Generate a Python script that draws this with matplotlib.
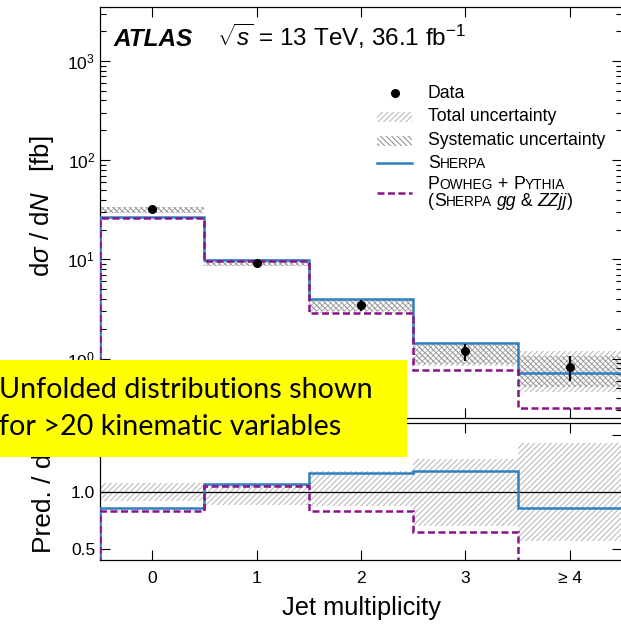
import numpy as np
import matplotlib
matplotlib.use("Agg")
import matplotlib.pyplot as plt
from matplotlib.patches import Rectangle
from matplotlib.lines import Line2D
from matplotlib.offsetbox import (AnchoredOffsetbox, DrawingArea, HPacker,
                                  VPacker, TextArea)

plt.rcParams["font.family"] = ["Liberation Sans", "DejaVu Sans"]
plt.rcParams["mathtext.fontset"] = "custom"
plt.rcParams["mathtext.rm"] = "Liberation Sans"
plt.rcParams["mathtext.it"] = "Liberation Sans:italic"
plt.rcParams["mathtext.bf"] = "Liberation Sans:bold"
plt.rcParams["hatch.linewidth"] = 0.7

# ---- data -------------------------------------------------------------
categories = ["0", "1", "2", "3", "≥ 4"]

data = [31.9, 9.3, 3.5, 1.19, 0.82]
data_err_lo = [0.5, 0.25, 0.45, 0.24, 0.23]
data_err_hi = [0.5, 0.25, 0.40, 0.20, 0.23]

total_lo = [29.5, 8.5, 2.90, 0.836, 0.46]
total_hi = [33.9, 10.1, 4.00, 1.47, 1.19]
syst_lo = [29.6, 8.6, 3.00, 0.89, 0.52]
syst_hi = [33.7, 10.0, 3.95, 1.36, 1.07]

sherpa = [26.8, 9.82, 4.03, 1.45, 0.716]
powheg = [26.0, 9.66, 2.88, 0.762, 0.318]

# ratio panel (prediction / data)
ratio_band_lo = [0.918, 0.88, 0.875, 0.695, 0.564]
ratio_band_hi = [1.078, 1.078, 1.18, 1.29, 1.43]
ratio_sherpa = [0.855, 1.067, 1.16, 1.185, 0.855]
ratio_powheg = [0.83, 1.05, 0.83, 0.648, 0.387]

# ---- style ------------------------------------------------------------
C_SHERPA = "#2f80c0"
C_POWHEG = "#8b128b"
C_TOTAL = "#b4b4b4"
C_SYST = "#8a8a8a"
HATCH_TOT = "//////"
HATCH_SYS = "\\\\\\\\\\\\"
DASH = (0, (2.8, 1.4))
LW = 1.8

x = np.arange(len(categories))
edges = np.arange(len(categories) + 1) - 0.5

fig = plt.figure(figsize=(6.21, 6.25), dpi=100)
W, H = 621.0, 625.0
ax = fig.add_axes([100 / W, 1 - 418.3 / H, 522 / W, 411.3 / H])
rax = fig.add_axes([100 / W, 1 - 560 / H, 522 / W, 136.7 / H])

# ---- main panel -------------------------------------------------------
ax.bar(x, np.subtract(total_hi, total_lo), bottom=total_lo, width=1.0,
       color="none", edgecolor=C_TOTAL, hatch=HATCH_TOT, linewidth=0, zorder=1)
ax.bar(x, np.subtract(syst_hi, syst_lo), bottom=syst_lo, width=1.0,
       color="none", edgecolor=C_SYST, hatch=HATCH_SYS, linewidth=0, zorder=1)
ax.stairs(sherpa, edges, color=C_SHERPA, lw=LW, zorder=3)
ax.stairs(powheg, edges, color=C_POWHEG, lw=LW, linestyle=DASH, zorder=4)
ax.errorbar(x, data, yerr=[data_err_lo, data_err_hi], fmt="o", color="black",
            ms=5.5, elinewidth=1.6, capsize=0, zorder=5)

ax.set_yscale("log")
ax.set_ylim(0.25, 3500)
ax.set_xlim(-0.5, 4.5)
ax.set_xticks(x)
ax.tick_params(axis="x", labelbottom=False)
ax.set_ylabel(r"d$\sigma$ / d$N$   [fb]", fontsize=18.5)
ax.yaxis.set_label_coords(-0.085, 0.515)

ax.text(0.025, 0.906, "ATLAS", transform=ax.transAxes, fontsize=17.5,
        fontweight="bold", fontstyle="italic", va="baseline")
ax.text(0.224, 0.906, r"$\sqrt{s}$ = 13 TeV, 36.1 fb$^{-1}$",
        transform=ax.transAxes, fontsize=17.5, va="baseline")

# ---- ratio panel ------------------------------------------------------
rax.bar(x, np.subtract(ratio_band_hi, ratio_band_lo), bottom=ratio_band_lo,
        width=1.0, color="none", edgecolor=C_TOTAL, hatch=HATCH_TOT,
        linewidth=0, zorder=1)
rax.axhline(1.0, color="black", lw=0.9, zorder=2)
rax.stairs(ratio_sherpa, edges, color=C_SHERPA, lw=LW, zorder=3)
rax.stairs(ratio_powheg, edges, color=C_POWHEG, lw=LW, linestyle=DASH, zorder=4)
rax.set_xlim(-0.5, 4.5)
rax.set_ylim(0.4, 1.6)
rax.set_yticks([0.5, 1.0, 1.5])
rax.set_yticklabels(["0.5", "1.0", ""])
rax.set_xticks(x)
rax.set_xticklabels(categories)
rax.set_ylabel("Pred. / data", fontsize=19)
rax.yaxis.set_label_coords(-0.085, 0.55)
rax.set_xlabel("Jet multiplicity", fontsize=18.3, labelpad=7)

for a in (ax, rax):
    a.tick_params(which="both", direction="in", top=True, right=True,
                  labelsize=12.5)
    a.tick_params(which="major", length=7, width=0.8)
    a.tick_params(which="minor", length=4, width=0.8)
    for s in a.spines.values():
        s.set_linewidth(0.9)
rax.tick_params(axis="x", pad=8)
rax.minorticks_off()

# ---- legend -----------------------------------------------------------
FS = 12.7
HW = 25.2


def handle(kind):
    hh = 14.4 if kind in ("data", "total", "syst") else 10.0
    da = DrawingArea(HW, hh, 0, 0)
    if kind == "data":
        da.add_artist(Line2D([HW / 2], [hh / 2], marker="o", color="black",
                             ms=5.5, linestyle="none"))
    elif kind == "total":
        da.add_artist(Rectangle((0, hh / 2 - 3.6), HW, 7.2, facecolor="none",
                                edgecolor=C_TOTAL, hatch=HATCH_TOT, lw=0))
    elif kind == "syst":
        da.add_artist(Rectangle((0, hh / 2 - 3.6), HW, 7.2, facecolor="none",
                                edgecolor=C_SYST, hatch=HATCH_SYS, lw=0))
    elif kind == "sherpa":
        da.add_artist(Line2D([0, HW], [hh / 2, hh / 2], color=C_SHERPA, lw=LW))
    else:
        da.add_artist(Line2D([0, HW], [hh / 2, hh / 2], color=C_POWHEG,
                             lw=LW, linestyle=DASH))
    return da


def txt(s, size=FS, **kw):
    return TextArea(s, textprops=dict(fontsize=size, **kw))


def caps(word):
    # small-capitals rendering: capital initial, reduced capitals after it
    return [txt(word[0]), txt(word[1:].upper(), size=FS * 0.78)]


def line(parts):
    return HPacker(children=parts, align="baseline", pad=0, sep=0)


labels = {
    "data": txt("Data"),
    "total": txt("Total uncertainty"),
    "syst": txt("Systematic uncertainty"),
    "sherpa": line(caps("Sherpa")),
    "powheg": VPacker(children=[
        line(caps("Powheg") + [txt(" + ")] + caps("Pythia")),
        line([txt("(")] + caps("Sherpa") + [txt(" "), txt("gg", style="italic"),
             txt(" & "), txt("ZZjj", style="italic"), txt(")")]),
    ], align="left", pad=0, sep=0.0),
}

rows = [HPacker(children=[handle(k), labels[k]], align="center", pad=0, sep=11.5)
        for k in ["data", "total", "syst", "sherpa", "powheg"]]
legend_box = VPacker(children=rows, align="left", pad=0, sep=2.8)
anch = AnchoredOffsetbox(loc="upper left", child=legend_box, pad=0,
                         borderpad=0, frameon=False,
                         bbox_to_anchor=(377 / W, 1 - 83 / H),
                         bbox_transform=fig.transFigure)
ax.add_artist(anch)

# ---- highlighted note -------------------------------------------------
fig.add_artist(Rectangle((0, 1 - 457 / H), 407 / W, 97 / H,
                         transform=fig.transFigure, facecolor="#ffff00",
                         edgecolor="none", zorder=10))
fig.text(-1 / W, 1 - 398 / H, "Unfolded distributions shown",
         family="Lato", fontsize=20.7, va="baseline", zorder=11)
fig.text(-1 / W, 1 - 435 / H, "for >20 kinematic variables",
         family="Lato", fontsize=20.7, va="baseline", zorder=11)

fig.savefig("out.png", dpi=100)
